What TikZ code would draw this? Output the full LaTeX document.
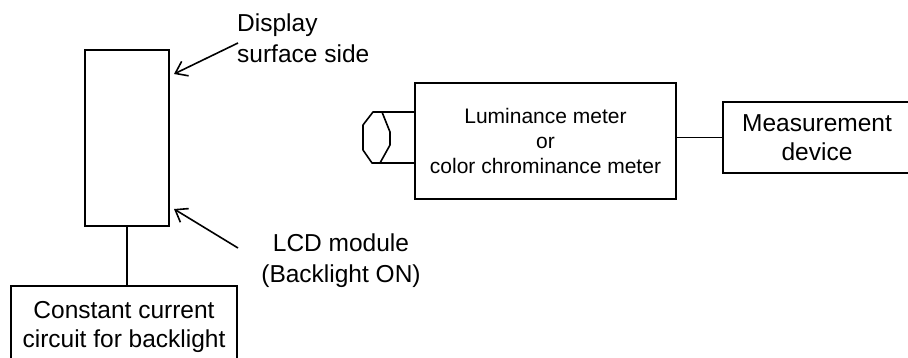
\documentclass[tikz,border=0pt]{standalone}
\usepackage{fontspec}
\setmainfont{Liberation Sans}
\usetikzlibrary{arrows.meta}
\begin{document}
\begin{tikzpicture}[x=1pt,y=-1pt,
  every node/.style={inner sep=0pt},
  wire/.style={line width=1.6pt},
  box/.style={draw,line width=1.6pt,align=center,font=\fontsize{24.5}{29.5}\selectfont},
  smallbox/.style={draw,line width=1.6pt,align=center,font=\fontsize{21}{25.3}\selectfont},
  lbl/.style={font=\fontsize{24.5}{31.5}\selectfont},
  arr/.style={line width=1.6pt,-{Straight Barb[length=11pt,width=16pt]}}]
\useasboundingbox (0,0) rectangle (908,358);
\clip (0,0) rectangle (908,358);
% LCD module
\node[draw,wire,minimum width=84pt,minimum height=176pt] (lcd) at (127,138) {};
\node[box,minimum width=226pt,minimum height=82pt] (ccc) at (124,327) {Constant current\\circuit for backlight};
\draw[wire] (lcd.south) -- (lcd.south |- ccc.north);
% labels
\node[lbl,align=left,anchor=base west] (disp) at (237,63) {Display\\surface side};
\node[lbl,align=center,anchor=base] (lcdlbl) at (341,283) {LCD module\\(Backlight ON)};
\coordinate (a1s) at (238,43);
\coordinate (a1e) at (174,74);
\coordinate (a2s) at (238,248);
\coordinate (a2e) at (174,209);
\draw[arr] (a1s) -- (a1e);
\draw[arr] (a2s) -- (a2e);
% meters
\node[smallbox,minimum width=261pt,minimum height=116pt] (lum) at (545.5,141) {Luminance meter\\or\\color chrominance meter};
\node[box,minimum width=188pt,minimum height=71pt] (meas) at (817,137.5) {Measurement\\device};
\draw[wire] (meas.west -| lum.east) -- (meas.west);
% lens
\coordinate (l1) at (373,112);
\coordinate (l2) at (382,112);
\coordinate (l3) at (390,132);
\coordinate (l4) at (390,145);
\coordinate (l5) at (380,163);
\coordinate (l6) at (372,163);
\coordinate (l7) at (363,150);
\coordinate (l8) at (363,125);
\draw[wire,line join=round] (l1) -- (l2) -- (l3) -- (l4) -- (l5) -- (l6) -- (l7) -- (l8) -- cycle;
\draw[wire] (l1) -- (l1 -| lum.west);
\draw[wire] (l6) -- (l6 -| lum.west);
\end{tikzpicture}
\end{document}
